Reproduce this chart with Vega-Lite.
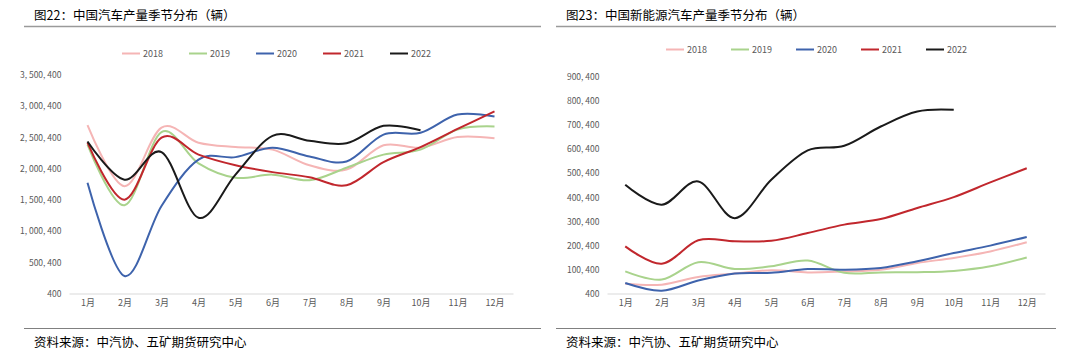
{
  "$schema": "https://vega.github.io/schema/vega-lite/v6.json",
  "padding": {"left": 19, "top": 9.5, "right": 0, "bottom": 0},
  "spacing": 13,
  "datasets": {
    "car": [
      {"year": "2018", "month": "1月", "value": 2690000}, {"year": "2018", "month": "2月", "value": 1715000}, {"year": "2018", "month": "3月", "value": 2650000}, {"year": "2018", "month": "4月", "value": 2410000}, {"year": "2018", "month": "5月", "value": 2340000}, {"year": "2018", "month": "6月", "value": 2300000}, {"year": "2018", "month": "7月", "value": 2050000}, {"year": "2018", "month": "8月", "value": 1980000}, {"year": "2018", "month": "9月", "value": 2370000}, {"year": "2018", "month": "10月", "value": 2330000}, {"year": "2018", "month": "11月", "value": 2500000}, {"year": "2018", "month": "12月", "value": 2480000},
      {"year": "2019", "month": "1月", "value": 2380000}, {"year": "2019", "month": "2月", "value": 1410000}, {"year": "2019", "month": "3月", "value": 2580000}, {"year": "2019", "month": "4月", "value": 2080000}, {"year": "2019", "month": "5月", "value": 1850000}, {"year": "2019", "month": "6月", "value": 1900000}, {"year": "2019", "month": "7月", "value": 1810000}, {"year": "2019", "month": "8月", "value": 2010000}, {"year": "2019", "month": "9月", "value": 2220000}, {"year": "2019", "month": "10月", "value": 2300000}, {"year": "2019", "month": "11月", "value": 2620000}, {"year": "2019", "month": "12月", "value": 2670000},
      {"year": "2020", "month": "1月", "value": 1770000}, {"year": "2020", "month": "2月", "value": 280000}, {"year": "2020", "month": "3月", "value": 1400000}, {"year": "2020", "month": "4月", "value": 2140000}, {"year": "2020", "month": "5月", "value": 2180000}, {"year": "2020", "month": "6月", "value": 2330000}, {"year": "2020", "month": "7月", "value": 2190000}, {"year": "2020", "month": "8月", "value": 2110000}, {"year": "2020", "month": "9月", "value": 2540000}, {"year": "2020", "month": "10月", "value": 2570000}, {"year": "2020", "month": "11月", "value": 2860000}, {"year": "2020", "month": "12月", "value": 2830000},
      {"year": "2021", "month": "1月", "value": 2410000}, {"year": "2021", "month": "2月", "value": 1500000}, {"year": "2021", "month": "3月", "value": 2490000}, {"year": "2021", "month": "4月", "value": 2220000}, {"year": "2021", "month": "5月", "value": 2050000}, {"year": "2021", "month": "6月", "value": 1940000}, {"year": "2021", "month": "7月", "value": 1860000}, {"year": "2021", "month": "8月", "value": 1730000}, {"year": "2021", "month": "9月", "value": 2100000}, {"year": "2021", "month": "10月", "value": 2340000}, {"year": "2021", "month": "11月", "value": 2630000}, {"year": "2021", "month": "12月", "value": 2910000},
      {"year": "2022", "month": "1月", "value": 2430000}, {"year": "2022", "month": "2月", "value": 1820000}, {"year": "2022", "month": "3月", "value": 2260000}, {"year": "2022", "month": "4月", "value": 1210000}, {"year": "2022", "month": "5月", "value": 1900000}, {"year": "2022", "month": "6月", "value": 2520000}, {"year": "2022", "month": "7月", "value": 2440000}, {"year": "2022", "month": "8月", "value": 2400000}, {"year": "2022", "month": "9月", "value": 2680000}, {"year": "2022", "month": "10月", "value": 2610000}
    ],
    "nev": [
      {"year": "2018", "month": "1月", "value": 41000}, {"year": "2018", "month": "2月", "value": 37000}, {"year": "2018", "month": "3月", "value": 69000}, {"year": "2018", "month": "4月", "value": 83000}, {"year": "2018", "month": "5月", "value": 97000}, {"year": "2018", "month": "6月", "value": 88000}, {"year": "2018", "month": "7月", "value": 92000}, {"year": "2018", "month": "8月", "value": 99000}, {"year": "2018", "month": "9月", "value": 127000}, {"year": "2018", "month": "10月", "value": 148000}, {"year": "2018", "month": "11月", "value": 175000}, {"year": "2018", "month": "12月", "value": 213000},
      {"year": "2019", "month": "1月", "value": 92000}, {"year": "2019", "month": "2月", "value": 58000}, {"year": "2019", "month": "3月", "value": 130000}, {"year": "2019", "month": "4月", "value": 102000}, {"year": "2019", "month": "5月", "value": 113000}, {"year": "2019", "month": "6月", "value": 137000}, {"year": "2019", "month": "7月", "value": 86000}, {"year": "2019", "month": "8月", "value": 88000}, {"year": "2019", "month": "9月", "value": 89000}, {"year": "2019", "month": "10月", "value": 94000}, {"year": "2019", "month": "11月", "value": 113000}, {"year": "2019", "month": "12月", "value": 150000},
      {"year": "2020", "month": "1月", "value": 44000}, {"year": "2020", "month": "2月", "value": 12000}, {"year": "2020", "month": "3月", "value": 54000}, {"year": "2020", "month": "4月", "value": 83000}, {"year": "2020", "month": "5月", "value": 86000}, {"year": "2020", "month": "6月", "value": 102000}, {"year": "2020", "month": "7月", "value": 99000}, {"year": "2020", "month": "8月", "value": 106000}, {"year": "2020", "month": "9月", "value": 134000}, {"year": "2020", "month": "10月", "value": 168000}, {"year": "2020", "month": "11月", "value": 199000}, {"year": "2020", "month": "12月", "value": 235000},
      {"year": "2021", "month": "1月", "value": 196000}, {"year": "2021", "month": "2月", "value": 124000}, {"year": "2021", "month": "3月", "value": 221000}, {"year": "2021", "month": "4月", "value": 217000}, {"year": "2021", "month": "5月", "value": 219000}, {"year": "2021", "month": "6月", "value": 251000}, {"year": "2021", "month": "7月", "value": 286000}, {"year": "2021", "month": "8月", "value": 309000}, {"year": "2021", "month": "9月", "value": 355000}, {"year": "2021", "month": "10月", "value": 400000}, {"year": "2021", "month": "11月", "value": 461000}, {"year": "2021", "month": "12月", "value": 520000},
      {"year": "2022", "month": "1月", "value": 451000}, {"year": "2022", "month": "2月", "value": 369000}, {"year": "2022", "month": "3月", "value": 465000}, {"year": "2022", "month": "4月", "value": 313000}, {"year": "2022", "month": "5月", "value": 472000}, {"year": "2022", "month": "6月", "value": 594000}, {"year": "2022", "month": "7月", "value": 613000}, {"year": "2022", "month": "8月", "value": 693000}, {"year": "2022", "month": "9月", "value": 755000}, {"year": "2022", "month": "10月", "value": 762000}
    ]
  },
  "hconcat": [
    {
      "width": 444,
      "height": 219,
      "title": {"text": "图22：中国汽车产量季节分布（辆）", "anchor": "start", "frame": "group", "dx": -35, "fontSize": 12.5, "fontWeight": "normal", "color": "#000000", "offset": 3},
      "layer": [
        {
          "data": {"name": "car"},
          "mark": {"type": "line", "interpolate": "cardinal", "strokeWidth": 2},
          "encoding": {
            "x": {"field": "month", "type": "ordinal", "sort": null, "scale": {"type": "point", "padding": 0.5}, "axis": {"labelPadding": 5}},
            "y": {"field": "value", "type": "quantitative", "scale": {"domain": [400, 3500400], "nice": false, "zero": false}, "axis": {"values": [400, 500400, 1000400, 1500400, 2000400, 2500400, 3000400, 3500400], "labelExpr": "join(split(format(datum.value, ','), ','), ', ')", "labelPadding": 8, "labelFontSize": 8.5}},
            "color": {"field": "year", "type": "nominal", "scale": {"domain": ["2018", "2019", "2020", "2021", "2022"], "range": ["#F5B5B5", "#A9D38C", "#3E63AC", "#C1272D", "#1A1A1A"]}, "legend": {"orient": "none", "legendX": 52, "legendY": -31}}
          }
        },
        {
          "data": {"values": [{}]},
          "mark": {"type": "rule", "color": "#9a9a9a", "strokeWidth": 1.5},
          "encoding": {"x": {"value": -45}, "x2": {"value": 472}, "y": {"value": -48}}
        },
        {
          "data": {"values": [{}]},
          "mark": {"type": "rule", "color": "#808080", "strokeWidth": 1},
          "encoding": {"x": {"value": -45}, "x2": {"value": 472}, "y": {"value": 254}}
        },
        {
          "data": {"values": [{"t": "资料来源：中汽协、五矿期货研究中心"}]},
          "mark": {"type": "text", "align": "left", "baseline": "middle", "fontSize": 12.5, "color": "#000000"},
          "encoding": {"text": {"field": "t"}, "x": {"value": -35}, "y": {"value": 268}}
        }
      ]
    },
    {
      "width": 438,
      "height": 219,
      "title": {"text": "图23：中国新能源汽车产量季节分布（辆）", "anchor": "start", "frame": "group", "dx": -41, "fontSize": 12.5, "fontWeight": "normal", "color": "#000000", "offset": 3},
      "layer": [
        {
          "data": {"name": "nev"},
          "mark": {"type": "line", "interpolate": "cardinal", "strokeWidth": 2},
          "encoding": {
            "x": {"field": "month", "type": "ordinal", "sort": null, "scale": {"type": "point", "padding": 0.5}, "axis": {"labelPadding": 5}},
            "y": {"field": "value", "type": "quantitative", "scale": {"domain": [400, 908700], "nice": false, "zero": false}, "axis": {"values": [400, 100400, 200400, 300400, 400400, 500400, 600400, 700400, 800400, 900400], "labelExpr": "join(split(format(datum.value, ','), ','), ', ')", "labelPadding": 8, "labelFontSize": 8.5}},
            "color": {"field": "year", "type": "nominal", "scale": {"domain": ["2018", "2019", "2020", "2021", "2022"], "range": ["#F5B5B5", "#A9D38C", "#3E63AC", "#C1272D", "#1A1A1A"]}, "legend": {"orient": "none", "legendX": 58, "legendY": -35, "columnPadding": 20}}
          }
        },
        {
          "data": {"values": [{}]},
          "mark": {"type": "rule", "color": "#9a9a9a", "strokeWidth": 1.5},
          "encoding": {"x": {"value": -51}, "x2": {"value": 449}, "y": {"value": -48}}
        },
        {
          "data": {"values": [{}]},
          "mark": {"type": "rule", "color": "#808080", "strokeWidth": 1},
          "encoding": {"x": {"value": -51}, "x2": {"value": 449}, "y": {"value": 254}}
        },
        {
          "data": {"values": [{"t": "资料来源：中汽协、五矿期货研究中心"}]},
          "mark": {"type": "text", "align": "left", "baseline": "middle", "fontSize": 12.5, "color": "#000000"},
          "encoding": {"text": {"field": "t"}, "x": {"value": -41}, "y": {"value": 268}}
        }
      ]
    }
  ],
  "resolve": {"scale": {"color": "independent"}},
  "config": {
    "font": "Noto Sans CJK SC",
    "view": {"stroke": null},
    "axis": {"labelFontSize": 9, "labelColor": "#595959", "ticks": false, "tickSize": 0, "grid": false, "title": null, "domain": false},
    "axisX": {"domain": true, "domainColor": "#d9d9d9", "domainWidth": 1.2, "labelAngle": 0},
    "legend": {"title": null, "direction": "horizontal", "symbolType": "stroke", "symbolSize": 324, "symbolStrokeWidth": 2, "labelFontSize": 9, "labelColor": "#595959", "labelOffset": 2, "columnPadding": 22}
  }
}
